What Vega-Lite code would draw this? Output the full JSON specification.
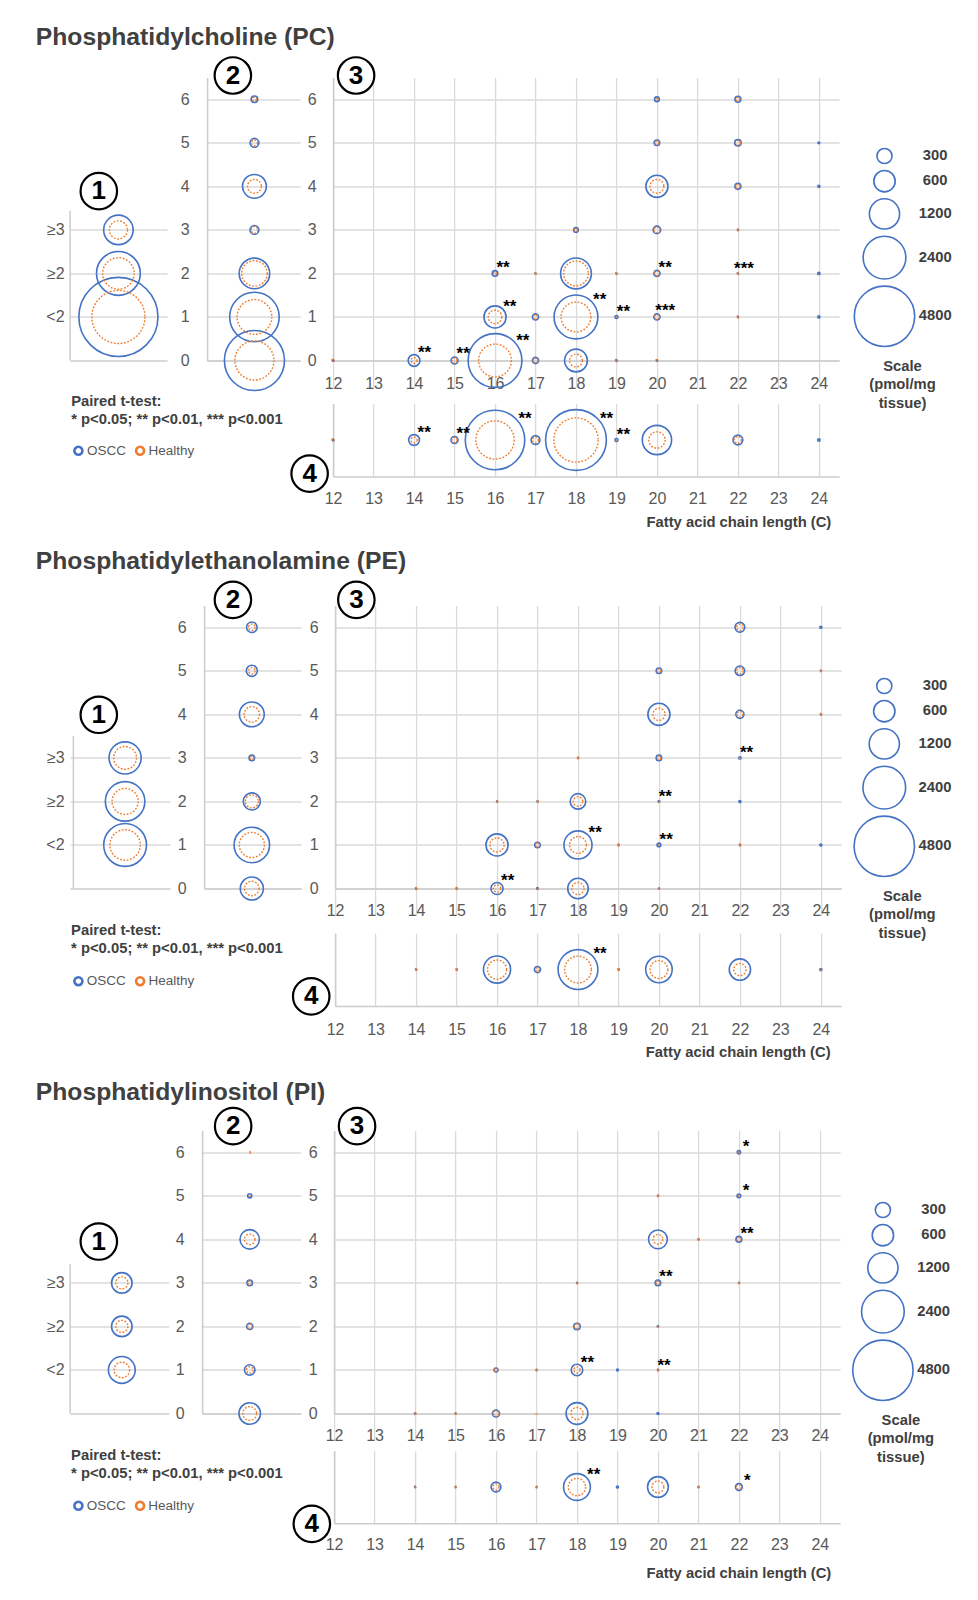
{
"$schema": "https://vega.github.io/schema/vega-lite/v6.json",
"background": "white",
"padding": {"left": 35.1, "top": 24.5, "right": 5, "bottom": 5},
"spacing": 19,
"resolve": {"scale": {"size": "independent"}, "legend": {"size": "independent"}},
"config": {
  "view": {"stroke": null},
  "axis": {"labelFont": "Liberation Sans", "labelFontSize": 16, "labelColor": "#595959", "gridColor": "#DADADA", "gridWidth": 1.3, "domainColor": "#CCCCCC", "domainWidth": 1.5, "tickColor": "#DADADA", "tickWidth": 1.3, "labelFlush": false, "labelOverlap": false, "titleFont": "Liberation Sans"},
  "text": {"font": "Liberation Sans"}
},
"vconcat": [
{
"title": {"text": "Phosphatidylcholine (PC)", "anchor": "start", "frame": "group", "dx": -34.3, "offset": 2.9, "fontSize": 24.7, "fontWeight": "bold", "font": "Liberation Sans", "color": "#404040"},
"columns": 3, "bounds": "flush", "spacing": {"row": 43, "column": 33},
"resolve": {"scale": {"size": "independent"}, "legend": {"size": "independent"}},
"concat": [
 {"width": 97, "height": 283,
  "layer": [
   {"data": {"values": [{"cat":3,"oscc":1145,"healthy":431},{"cat":2,"oscc":2524,"healthy":1306},{"cat":1,"oscc":8233,"healthy":3710}]},
    "encoding": {"x": {"datum":0.498,"type":"quantitative","scale":{"domain":[0,1],"nice":false,"zero":false},"axis":{"labels":false,"ticks":false,"grid":false,"domain":true,"title":null}},
     "y": {"field":"cat","type":"quantitative","scale":{"domain":[0,6.5],"nice":false,"zero":false},"axis":{"values":[1,2,3],"labelExpr":"datum.value == 1 ? '<2' : (datum.value == 2 ? '≥2' : '≥3')","domain":false,"ticks":false,"grid":true,"title":null,"labelPadding":6}}},
    "layer": [
     {"mark": {"type":"point","shape":"circle","filled":false,"stroke":"#4472C4","strokeWidth":1.6,"opacity":1},
      "encoding": {"size": {"field":"oscc","type":"quantitative","scale":{"type":"linear","domain":[0,4800],"range":[0,3648]},"legend":null}}},
     {"mark": {"type":"point","shape":"circle","filled":false,"stroke":"#ED7D31","strokeWidth":1.4,"strokeDash":[1.8,1.6],"opacity":1},
      "encoding": {"size": {"field":"healthy","type":"quantitative","scale":{"type":"linear","domain":[0,4800],"range":[0,3648]},"legend":null}}}
    ]},
   {"data":{"values":[{}]},"mark":{"type":"rule","color":"#CCCCCC","strokeWidth":1.5},
    "encoding":{"x":{"datum":0,"type":"quantitative","axis":{"title":null}},"y":{"datum":0,"type":"quantitative","axis":{"title":null}},"y2":{"datum":3.44}}},
   {"data":{"values":[{}]},"mark":{"type":"point","shape":"circle","filled":true,"fill":"#FFFFFF","stroke":"#000000","strokeWidth":2.2,"size":1330,"opacity":1},
    "encoding":{"x":{"datum":0.296,"type":"quantitative","axis":{"title":null}},"y":{"datum":3.89,"type":"quantitative","axis":{"title":null}}}},
   {"data":{"values":[{}]},"mark":{"type":"text","text":"1","font":"Liberation Sans","fontSize":26,"fontWeight":"bold","color":"#000000","align":"center","baseline":"middle"},
    "encoding":{"x":{"datum":0.296,"type":"quantitative","axis":{"title":null}},"y":{"datum":3.89,"type":"quantitative","axis":{"title":null}}}}
  ]},
 {"width": 93, "height": 283,
  "layer": [
   {"data": {"values": [{"db":0,"oscc":4753,"healthy":2012},{"db":1,"oscc":3224,"healthy":1593},{"db":2,"oscc":1224,"healthy":856},{"db":3,"oscc":102,"healthy":56},{"db":4,"oscc":745,"healthy":250},{"db":5,"oscc":102,"healthy":47},{"db":6,"oscc":56,"healthy":21}]},
    "encoding": {"x": {"datum":0.509,"type":"quantitative","scale":{"domain":[0,1],"nice":false,"zero":false},"axis":{"labels":false,"ticks":false,"grid":false,"domain":true,"title":null}},
     "y": {"field":"db","type":"quantitative","scale":{"domain":[0,6.5],"nice":false,"zero":false},"axis":{"values":[0,1,2,3,4,5,6],"domain":true,"ticks":false,"grid":true,"title":null,"labelPadding":18}}},
    "layer": [
     {"mark": {"type":"point","shape":"circle","filled":false,"stroke":"#4472C4","strokeWidth":1.6,"opacity":1},
      "encoding": {"size": {"field":"oscc","type":"quantitative","scale":{"type":"linear","domain":[0,4800],"range":[0,3648]},"legend":null}}},
     {"mark": {"type":"point","shape":"circle","filled":false,"stroke":"#ED7D31","strokeWidth":1.4,"strokeDash":[1.8,1.6],"opacity":1},
      "encoding": {"size": {"field":"healthy","type":"quantitative","scale":{"type":"linear","domain":[0,4800],"range":[0,3648]},"legend":null}}}
    ]},
   {"data":{"values":[{}]},"mark":{"type":"point","shape":"circle","filled":true,"fill":"#FFFFFF","stroke":"#000000","strokeWidth":2.2,"size":1330,"opacity":1},
    "encoding":{"x":{"datum":0.277,"type":"quantitative","axis":{"title":null}},"y":{"datum":6.546,"type":"quantitative","axis":{"title":null}}}},
   {"data":{"values":[{}]},"mark":{"type":"text","text":"2","font":"Liberation Sans","fontSize":26,"fontWeight":"bold","color":"#000000","align":"center","baseline":"middle"},
    "encoding":{"x":{"datum":0.277,"type":"quantitative","axis":{"title":null}},"y":{"datum":6.546,"type":"quantitative","axis":{"title":null}}}}
  ]},
 {"width": 506, "height": 283,
  "layer": [
   {"data": {"values": [
     {"c":12,"db":0,"oscc":3,"healthy":8,"sig":""},{"c":14,"db":0,"oscc":183,"healthy":47,"sig":"**"},{"c":15,"db":0,"oscc":66,"healthy":33,"sig":"**"},{"c":16,"db":0,"oscc":3808,"healthy":1416,"sig":"**"},{"c":17,"db":0,"oscc":50,"healthy":30,"sig":""},{"c":18,"db":0,"oscc":684,"healthy":216,"sig":""},{"c":19,"db":0,"oscc":2,"healthy":8,"sig":""},{"c":20,"db":0,"oscc":2,"healthy":6,"sig":""},
     {"c":16,"db":1,"oscc":643,"healthy":240,"sig":"**"},{"c":17,"db":1,"oscc":50,"healthy":27,"sig":""},{"c":18,"db":1,"oscc":2524,"healthy":1168,"sig":"**"},{"c":19,"db":1,"oscc":12,"healthy":1,"sig":"**"},{"c":20,"db":1,"oscc":50,"healthy":30,"sig":"***"},{"c":22,"db":1,"oscc":1,"healthy":6,"sig":""},{"c":24,"db":1,"oscc":6,"healthy":0,"sig":""},
     {"c":16,"db":2,"oscc":40,"healthy":10,"sig":"**"},{"c":17,"db":2,"oscc":1,"healthy":6,"sig":""},{"c":18,"db":2,"oscc":1248,"healthy":809,"sig":""},{"c":19,"db":2,"oscc":1,"healthy":6,"sig":""},{"c":20,"db":2,"oscc":50,"healthy":30,"sig":"**"},{"c":22,"db":2,"oscc":1,"healthy":6,"sig":"***"},{"c":24,"db":2,"oscc":6,"healthy":0,"sig":""},
     {"c":18,"db":3,"oscc":28,"healthy":12,"sig":""},{"c":20,"db":3,"oscc":74,"healthy":45,"sig":""},{"c":22,"db":3,"oscc":1,"healthy":5,"sig":""},
     {"c":20,"db":4,"oscc":643,"healthy":250,"sig":""},{"c":22,"db":4,"oscc":47,"healthy":25,"sig":""},{"c":24,"db":4,"oscc":5,"healthy":0,"sig":""},
     {"c":20,"db":5,"oscc":40,"healthy":20,"sig":""},{"c":22,"db":5,"oscc":55,"healthy":33,"sig":""},{"c":24,"db":5,"oscc":4,"healthy":0,"sig":""},
     {"c":20,"db":6,"oscc":30,"healthy":5,"sig":""},{"c":22,"db":6,"oscc":45,"healthy":20,"sig":""}]},
    "encoding": {"x": {"field":"c","type":"quantitative","scale":{"domain":[12,24.5],"nice":false,"zero":false},"axis":{"values":[12,13,14,15,16,17,18,19,20,21,22,23,24],"grid":true,"ticks":true,"tickSize":27,"labelPadding":-12.5,"domain":true,"title":null}},
     "y": {"field":"db","type":"quantitative","scale":{"domain":[0,6.5],"nice":false,"zero":false},"axis":{"values":[0,1,2,3,4,5,6],"domain":true,"ticks":false,"grid":true,"title":null,"labelPadding":17}}},
    "layer": [
     {"mark": {"type":"point","shape":"circle","filled":false,"stroke":"#4472C4","strokeWidth":1.6,"opacity":1},
      "encoding": {"size": {"field":"oscc","type":"quantitative","scale":{"type":"linear","domain":[0,4800],"range":[0,3648]},
        "legend":{"values":[300,600,1200,2400,4800],"format":"d","title":["Scale","(pmol/mg","tissue)"],"orient":"none","legendX":520.4,"legendY":70,"padding":0,"titleOrient":"bottom","titleAnchor":"middle","titleAlign":"center","titleFontSize":14.8,"titleFont":"Liberation Sans","titleFontWeight":"bold","titleColor":"#404040","titleLineHeight":18.3,"titlePadding":9.5,"titleLimit":300,"labelFontSize":14.8,"labelFont":"Liberation Sans","labelFontWeight":"bold","labelColor":"#404040","labelAlign":"center","labelOffset":19.7,"symbolType":"circle","symbolStrokeColor":"#4472C4","symbolFillColor":"transparent","symbolStrokeWidth":1.6,"symbolOpacity":1,"rowPadding":-0.8}}}},
     {"mark": {"type":"point","shape":"circle","filled":false,"stroke":"#ED7D31","strokeWidth":1.4,"strokeDash":[1.8,1.6],"opacity":1},
      "encoding": {"size": {"field":"healthy","type":"quantitative","scale":{"type":"linear","domain":[0,4800],"range":[0,3648]},"legend":null}}},
     {"mark": {"type":"text","font":"Liberation Sans","fontSize":17,"fontWeight":"bold","color":"#000000","align":"center","baseline":"middle","theta":0.96},
      "encoding": {"text":{"field":"sig"},"radius": {"field":"oscc","type":"quantitative","scale":{"type":"sqrt","domain":[0,4800],"range":[7,37.2],"zero":false}}}}
    ]},
   {"data":{"values":[{}]},"mark":{"type":"point","shape":"circle","filled":true,"fill":"#FFFFFF","stroke":"#000000","strokeWidth":2.2,"size":1330,"opacity":1},
    "encoding":{"x":{"datum":12.568,"type":"quantitative","axis":{"title":null}},"y":{"datum":6.546,"type":"quantitative","axis":{"title":null}}}},
   {"data":{"values":[{}]},"mark":{"type":"text","text":"3","font":"Liberation Sans","fontSize":26,"fontWeight":"bold","color":"#000000","align":"center","baseline":"middle"},
    "encoding":{"x":{"datum":12.568,"type":"quantitative","axis":{"title":null}},"y":{"datum":6.546,"type":"quantitative","axis":{"title":null}}}}
  ]},
 {"width": 104, "height": 73,
  "data": {"values": [{}]},
  "encoding": {"x":{"datum":0,"type":"quantitative","scale":{"domain":[0,1],"nice":false,"zero":false},"axis":null},"y":{"datum":0,"type":"quantitative","scale":{"domain":[0,1],"nice":false,"zero":false},"axis":null}},
  "layer": [
   {"mark":{"type":"text","text":"Paired t-test:","align":"left","baseline":"middle","font":"Liberation Sans","fontSize":14.8,"fontWeight":"bold","color":"#404040"},
    "encoding":{"x":{"datum":0.01,"type":"quantitative","axis":null},"y":{"datum":1.023,"type":"quantitative","axis":null}}},
   {"mark":{"type":"text","text":"* p<0.05; ** p<0.01, *** p<0.001","align":"left","baseline":"middle","font":"Liberation Sans","fontSize":14.8,"fontWeight":"bold","color":"#404040"},
    "encoding":{"x":{"datum":0.01,"type":"quantitative","axis":null},"y":{"datum":0.777,"type":"quantitative","axis":null}}},
   {"mark":{"type":"point","shape":"circle","filled":false,"stroke":"#4472C4","strokeWidth":2.6,"size":64,"opacity":1},
    "encoding":{"x":{"datum":0.08,"type":"quantitative","axis":null},"y":{"datum":0.352,"type":"quantitative","axis":null}}},
   {"mark":{"type":"text","text":"OSCC","align":"left","baseline":"middle","font":"Liberation Sans","fontSize":13.5,"color":"#595959"},
    "encoding":{"x":{"datum":0.163,"type":"quantitative","axis":null},"y":{"datum":0.352,"type":"quantitative","axis":null}}},
   {"mark":{"type":"point","shape":"circle","filled":false,"stroke":"#ED7D31","strokeWidth":2.6,"size":64,"opacity":1},
    "encoding":{"x":{"datum":0.673,"type":"quantitative","axis":null},"y":{"datum":0.352,"type":"quantitative","axis":null}}},
   {"mark":{"type":"text","text":"Healthy","align":"left","baseline":"middle","font":"Liberation Sans","fontSize":13.5,"color":"#595959"},
    "encoding":{"x":{"datum":0.753,"type":"quantitative","axis":null},"y":{"datum":0.352,"type":"quantitative","axis":null}}}
  ]},
 {"width": 10, "height": 10, "data": {"values": []}, "mark": "point"},
 {"width": 506, "height": 73,
  "layer": [
   {"data": {"values": [{"c":12,"oscc":3,"healthy":8,"sig":""},{"c":14,"oscc":153,"healthy":47,"sig":"**"},{"c":15,"oscc":66,"healthy":33,"sig":"**"},{"c":16,"oscc":4658,"healthy":1930,"sig":"**"},{"c":17,"oscc":102,"healthy":47,"sig":""},{"c":18,"oscc":4864,"healthy":2582,"sig":"**"},{"c":19,"oscc":12,"healthy":2,"sig":"**"},{"c":20,"oscc":1130,"healthy":350,"sig":""},{"c":22,"oscc":126,"healthy":64,"sig":""},{"c":24,"oscc":8,"healthy":0,"sig":""}]},
    "encoding": {"x": {"field":"c","type":"quantitative","scale":{"domain":[12,24.5],"nice":false,"zero":false},"axis":{"values":[12,13,14,15,16,17,18,19,20,21,22,23,24],"grid":true,"ticks":false,"labelPadding":13.5,"domain":true,"title":"Fatty acid chain length (C)","titleX":497.7,"titleAlign":"right","titleAnchor":"end","titleFontSize":14.8,"titleFontWeight":"bold","titleColor":"#404040","titlePadding":8}},
     "y": {"datum":0.5,"type":"quantitative","scale":{"domain":[0,1],"nice":false,"zero":false},"axis":{"labels":false,"ticks":false,"grid":false,"domain":true,"title":null}}},
    "layer": [
     {"mark": {"type":"point","shape":"circle","filled":false,"stroke":"#4472C4","strokeWidth":1.6,"opacity":1},
      "encoding": {"size": {"field":"oscc","type":"quantitative","scale":{"type":"linear","domain":[0,4800],"range":[0,3648]},"legend":null}}},
     {"mark": {"type":"point","shape":"circle","filled":false,"stroke":"#ED7D31","strokeWidth":1.4,"strokeDash":[1.8,1.6],"opacity":1},
      "encoding": {"size": {"field":"healthy","type":"quantitative","scale":{"type":"linear","domain":[0,4800],"range":[0,3648]},"legend":null}}},
     {"mark": {"type":"text","font":"Liberation Sans","fontSize":17,"fontWeight":"bold","color":"#000000","align":"center","baseline":"middle","theta":0.96},
      "encoding": {"text":{"field":"sig"},"radius": {"field":"oscc","type":"quantitative","scale":{"type":"sqrt","domain":[0,4800],"range":[7,37.2],"zero":false}}}}
    ]},
   {"data":{"values":[{}]},"mark":{"type":"point","shape":"circle","filled":true,"fill":"#FFFFFF","stroke":"#000000","strokeWidth":2.2,"size":1330,"opacity":1},
    "encoding":{"x":{"datum":11.42,"type":"quantitative","axis":{"title":"Fatty acid chain length (C)"}},"y":{"datum":0.04,"type":"quantitative","axis":{"title":null}}}},
   {"data":{"values":[{}]},"mark":{"type":"text","text":"4","font":"Liberation Sans","fontSize":26,"fontWeight":"bold","color":"#000000","align":"center","baseline":"middle"},
    "encoding":{"x":{"datum":11.42,"type":"quantitative","axis":{"title":"Fatty acid chain length (C)"}},"y":{"datum":0.04,"type":"quantitative","axis":{"title":null}}}}
  ]}
]
},
{
"title": {"text": "Phosphatidylethanolamine (PE)", "anchor": "start", "frame": "group", "dx": -34.3, "offset": 4, "fontSize": 24.7, "fontWeight": "bold", "font": "Liberation Sans", "color": "#404040"},
"columns": 3, "bounds": "flush", "spacing": {"row": 44.7, "column": 34},
"resolve": {"scale": {"size": "independent"}, "legend": {"size": "independent"}},
"concat": [
 {"width": 100, "height": 283,
  "layer": [
   {"data": {"values": [{"cat":3,"oscc":1356,"healthy":684},{"cat":2,"oscc":2053,"healthy":896},{"cat":1,"oscc":2410,"healthy":1224}]},
    "encoding": {"x": {"datum":0.55,"type":"quantitative","scale":{"domain":[0,1],"nice":false,"zero":false},"axis":{"labels":false,"ticks":false,"grid":false,"domain":true,"title":null}},
     "y": {"field":"cat","type":"quantitative","scale":{"domain":[0,6.5],"nice":false,"zero":false},"axis":{"values":[1,2,3],"labelExpr":"datum.value == 1 ? '<2' : (datum.value == 2 ? '≥2' : '≥3')","domain":false,"ticks":false,"grid":true,"title":null,"labelPadding":6}}},
    "layer": [
     {"mark": {"type":"point","shape":"circle","filled":false,"stroke":"#4472C4","strokeWidth":1.6,"opacity":1},
      "encoding": {"size": {"field":"oscc","type":"quantitative","scale":{"type":"linear","domain":[0,4800],"range":[0,3648]},"legend":null}}},
     {"mark": {"type":"point","shape":"circle","filled":false,"stroke":"#ED7D31","strokeWidth":1.4,"strokeDash":[1.8,1.6],"opacity":1},
      "encoding": {"size": {"field":"healthy","type":"quantitative","scale":{"type":"linear","domain":[0,4800],"range":[0,3648]},"legend":null}}}
    ]},
   {"data":{"values":[{}]},"mark":{"type":"rule","color":"#CCCCCC","strokeWidth":1.5},
    "encoding":{"x":{"datum":0.033,"type":"quantitative","axis":{"title":null}},"y":{"datum":0,"type":"quantitative","axis":{"title":null}},"y2":{"datum":3.5}}},
   {"data":{"values":[{}]},"mark":{"type":"point","shape":"circle","filled":true,"fill":"#FFFFFF","stroke":"#000000","strokeWidth":2.2,"size":1330,"opacity":1},
    "encoding":{"x":{"datum":0.287,"type":"quantitative","axis":{"title":null}},"y":{"datum":3.99,"type":"quantitative","axis":{"title":null}}}},
   {"data":{"values":[{}]},"mark":{"type":"text","text":"1","font":"Liberation Sans","fontSize":26,"fontWeight":"bold","color":"#000000","align":"center","baseline":"middle"},
    "encoding":{"x":{"datum":0.287,"type":"quantitative","axis":{"title":null}},"y":{"datum":3.99,"type":"quantitative","axis":{"title":null}}}}
  ]},
 {"width": 97, "height": 283,
  "layer": [
   {"data": {"values": [{"db":0,"oscc":702,"healthy":277},{"db":1,"oscc":1658,"healthy":829},{"db":2,"oscc":385,"healthy":226},{"db":3,"oscc":40,"healthy":20},{"db":4,"oscc":809,"healthy":316},{"db":5,"oscc":162,"healthy":55},{"db":6,"oscc":145,"healthy":55}]},
    "encoding": {"x": {"datum":0.492,"type":"quantitative","scale":{"domain":[0,1],"nice":false,"zero":false},"axis":{"labels":false,"ticks":false,"grid":false,"domain":true,"title":null}},
     "y": {"field":"db","type":"quantitative","scale":{"domain":[0,6.5],"nice":false,"zero":false},"axis":{"values":[0,1,2,3,4,5,6],"domain":true,"ticks":false,"grid":true,"title":null,"labelPadding":18}}},
    "layer": [
     {"mark": {"type":"point","shape":"circle","filled":false,"stroke":"#4472C4","strokeWidth":1.6,"opacity":1},
      "encoding": {"size": {"field":"oscc","type":"quantitative","scale":{"type":"linear","domain":[0,4800],"range":[0,3648]},"legend":null}}},
     {"mark": {"type":"point","shape":"circle","filled":false,"stroke":"#ED7D31","strokeWidth":1.4,"strokeDash":[1.8,1.6],"opacity":1},
      "encoding": {"size": {"field":"healthy","type":"quantitative","scale":{"type":"linear","domain":[0,4800],"range":[0,3648]},"legend":null}}}
    ]},
   {"data":{"values":[{}]},"mark":{"type":"point","shape":"circle","filled":true,"fill":"#FFFFFF","stroke":"#000000","strokeWidth":2.2,"size":1330,"opacity":1},
    "encoding":{"x":{"datum":0.297,"type":"quantitative","axis":{"title":null}},"y":{"datum":6.63,"type":"quantitative","axis":{"title":null}}}},
   {"data":{"values":[{}]},"mark":{"type":"text","text":"2","font":"Liberation Sans","fontSize":26,"fontWeight":"bold","color":"#000000","align":"center","baseline":"middle"},
    "encoding":{"x":{"datum":0.297,"type":"quantitative","axis":{"title":null}},"y":{"datum":6.63,"type":"quantitative","axis":{"title":null}}}}
  ]},
 {"width": 506, "height": 283,
  "layer": [
   {"data": {"values": [
     {"c":14,"db":0,"oscc":1,"healthy":6,"sig":""},{"c":15,"db":0,"oscc":1,"healthy":5,"sig":""},{"c":16,"db":0,"oscc":193,"healthy":70,"sig":"**"},{"c":17,"db":0,"oscc":4,"healthy":3,"sig":""},{"c":18,"db":0,"oscc":553,"healthy":193,"sig":""},{"c":20,"db":0,"oscc":1,"healthy":4,"sig":""},
     {"c":16,"db":1,"oscc":643,"healthy":262,"sig":""},{"c":17,"db":1,"oscc":40,"healthy":25,"sig":""},{"c":18,"db":1,"oscc":1039,"healthy":371,"sig":"**"},{"c":19,"db":1,"oscc":1,"healthy":5,"sig":""},{"c":20,"db":1,"oscc":18,"healthy":1,"sig":"**"},{"c":22,"db":1,"oscc":1,"healthy":5,"sig":""},{"c":24,"db":1,"oscc":5,"healthy":0,"sig":""},
     {"c":16,"db":2,"oscc":1,"healthy":5,"sig":""},{"c":17,"db":2,"oscc":1,"healthy":5,"sig":""},{"c":18,"db":2,"oscc":316,"healthy":119,"sig":""},{"c":20,"db":2,"oscc":3,"healthy":3,"sig":"**"},{"c":22,"db":2,"oscc":5,"healthy":0,"sig":""},
     {"c":18,"db":3,"oscc":1,"healthy":4,"sig":""},{"c":20,"db":3,"oscc":40,"healthy":20,"sig":""},{"c":22,"db":3,"oscc":6,"healthy":1,"sig":"**"},
     {"c":20,"db":4,"oscc":643,"healthy":193,"sig":""},{"c":22,"db":4,"oscc":86,"healthy":45,"sig":""},{"c":24,"db":4,"oscc":1,"healthy":5,"sig":""},
     {"c":20,"db":5,"oscc":40,"healthy":20,"sig":""},{"c":22,"db":5,"oscc":119,"healthy":55,"sig":""},{"c":24,"db":5,"oscc":1,"healthy":4,"sig":""},
     {"c":22,"db":6,"oscc":126,"healthy":55,"sig":""},{"c":24,"db":6,"oscc":5,"healthy":0,"sig":""}]},
    "encoding": {"x": {"field":"c","type":"quantitative","scale":{"domain":[12,24.5],"nice":false,"zero":false},"axis":{"values":[12,13,14,15,16,17,18,19,20,21,22,23,24],"grid":true,"ticks":true,"tickSize":27,"labelPadding":-12.5,"domain":true,"title":null}},
     "y": {"field":"db","type":"quantitative","scale":{"domain":[0,6.5],"nice":false,"zero":false},"axis":{"values":[0,1,2,3,4,5,6],"domain":true,"ticks":false,"grid":true,"title":null,"labelPadding":17}}},
    "layer": [
     {"mark": {"type":"point","shape":"circle","filled":false,"stroke":"#4472C4","strokeWidth":1.6,"opacity":1},
      "encoding": {"size": {"field":"oscc","type":"quantitative","scale":{"type":"linear","domain":[0,4800],"range":[0,3648]},
        "legend":{"values":[300,600,1200,2400,4800],"format":"d","title":["Scale","(pmol/mg","tissue)"],"orient":"none","legendX":518.2,"legendY":72,"padding":0,"titleOrient":"bottom","titleAnchor":"middle","titleAlign":"center","titleFontSize":14.8,"titleFont":"Liberation Sans","titleFontWeight":"bold","titleColor":"#404040","titleLineHeight":18.3,"titlePadding":9.5,"titleLimit":300,"labelFontSize":14.8,"labelFont":"Liberation Sans","labelFontWeight":"bold","labelColor":"#404040","labelAlign":"center","labelOffset":19.7,"symbolType":"circle","symbolStrokeColor":"#4472C4","symbolFillColor":"transparent","symbolStrokeWidth":1.6,"symbolOpacity":1,"rowPadding":-0.8}}}},
     {"mark": {"type":"point","shape":"circle","filled":false,"stroke":"#ED7D31","strokeWidth":1.4,"strokeDash":[1.8,1.6],"opacity":1},
      "encoding": {"size": {"field":"healthy","type":"quantitative","scale":{"type":"linear","domain":[0,4800],"range":[0,3648]},"legend":null}}},
     {"mark": {"type":"text","font":"Liberation Sans","fontSize":17,"fontWeight":"bold","color":"#000000","align":"center","baseline":"middle","theta":0.96},
      "encoding": {"text":{"field":"sig"},"radius": {"field":"oscc","type":"quantitative","scale":{"type":"sqrt","domain":[0,4800],"range":[7,37.2],"zero":false}}}}
    ]},
   {"data":{"values":[{}]},"mark":{"type":"point","shape":"circle","filled":true,"fill":"#FFFFFF","stroke":"#000000","strokeWidth":2.2,"size":1330,"opacity":1},
    "encoding":{"x":{"datum":12.525,"type":"quantitative","axis":{"title":null}},"y":{"datum":6.63,"type":"quantitative","axis":{"title":null}}}},
   {"data":{"values":[{}]},"mark":{"type":"text","text":"3","font":"Liberation Sans","fontSize":26,"fontWeight":"bold","color":"#000000","align":"center","baseline":"middle"},
    "encoding":{"x":{"datum":12.525,"type":"quantitative","axis":{"title":null}},"y":{"datum":6.63,"type":"quantitative","axis":{"title":null}}}}
  ]},
 {"width": 100, "height": 72.7,
  "data": {"values": [{}]},
  "encoding": {"x":{"datum":0,"type":"quantitative","scale":{"domain":[0,1],"nice":false,"zero":false},"axis":null},"y":{"datum":0,"type":"quantitative","scale":{"domain":[0,1],"nice":false,"zero":false},"axis":null}},
  "layer": [
   {"mark":{"type":"text","text":"Paired t-test:","align":"left","baseline":"middle","font":"Liberation Sans","fontSize":14.8,"fontWeight":"bold","color":"#404040"},
    "encoding":{"x":{"datum":0.01,"type":"quantitative","axis":null},"y":{"datum":1.032,"type":"quantitative","axis":null}}},
   {"mark":{"type":"text","text":"* p<0.05; ** p<0.01, *** p<0.001","align":"left","baseline":"middle","font":"Liberation Sans","fontSize":14.8,"fontWeight":"bold","color":"#404040"},
    "encoding":{"x":{"datum":0.01,"type":"quantitative","axis":null},"y":{"datum":0.78,"type":"quantitative","axis":null}}},
   {"mark":{"type":"point","shape":"circle","filled":false,"stroke":"#4472C4","strokeWidth":2.6,"size":64,"opacity":1},
    "encoding":{"x":{"datum":0.083,"type":"quantitative","axis":null},"y":{"datum":0.34,"type":"quantitative","axis":null}}},
   {"mark":{"type":"text","text":"OSCC","align":"left","baseline":"middle","font":"Liberation Sans","fontSize":13.5,"color":"#595959"},
    "encoding":{"x":{"datum":0.167,"type":"quantitative","axis":null},"y":{"datum":0.34,"type":"quantitative","axis":null}}},
   {"mark":{"type":"point","shape":"circle","filled":false,"stroke":"#ED7D31","strokeWidth":2.6,"size":64,"opacity":1},
    "encoding":{"x":{"datum":0.70,"type":"quantitative","axis":null},"y":{"datum":0.34,"type":"quantitative","axis":null}}},
   {"mark":{"type":"text","text":"Healthy","align":"left","baseline":"middle","font":"Liberation Sans","fontSize":13.5,"color":"#595959"},
    "encoding":{"x":{"datum":0.783,"type":"quantitative","axis":null},"y":{"datum":0.34,"type":"quantitative","axis":null}}}
  ]},
 {"width": 10, "height": 10, "data": {"values": []}, "mark": "point"},
 {"width": 506, "height": 72.7,
  "layer": [
   {"data": {"values": [{"c":14,"oscc":1,"healthy":6,"sig":""},{"c":15,"oscc":1,"healthy":5,"sig":""},{"c":16,"oscc":966,"healthy":480,"sig":""},{"c":17,"oscc":50,"healthy":20,"sig":""},{"c":18,"oscc":2084,"healthy":945,"sig":"**"},{"c":19,"oscc":1,"healthy":5,"sig":""},{"c":20,"oscc":924,"healthy":417,"sig":""},{"c":22,"oscc":597,"healthy":199,"sig":""},{"c":24,"oscc":6,"healthy":2,"sig":""}]},
    "encoding": {"x": {"field":"c","type":"quantitative","scale":{"domain":[12,24.5],"nice":false,"zero":false},"axis":{"values":[12,13,14,15,16,17,18,19,20,21,22,23,24],"grid":true,"ticks":false,"labelPadding":16,"domain":true,"title":"Fatty acid chain length (C)","titleX":495,"titleAlign":"right","titleAnchor":"end","titleFontSize":14.8,"titleFontWeight":"bold","titleColor":"#404040","titlePadding":7}},
     "y": {"datum":0.5,"type":"quantitative","scale":{"domain":[0,1],"nice":false,"zero":false},"axis":{"labels":false,"ticks":false,"grid":false,"domain":true,"title":null}}},
    "layer": [
     {"mark": {"type":"point","shape":"circle","filled":false,"stroke":"#4472C4","strokeWidth":1.6,"opacity":1},
      "encoding": {"size": {"field":"oscc","type":"quantitative","scale":{"type":"linear","domain":[0,4800],"range":[0,3648]},"legend":null}}},
     {"mark": {"type":"point","shape":"circle","filled":false,"stroke":"#ED7D31","strokeWidth":1.4,"strokeDash":[1.8,1.6],"opacity":1},
      "encoding": {"size": {"field":"healthy","type":"quantitative","scale":{"type":"linear","domain":[0,4800],"range":[0,3648]},"legend":null}}},
     {"mark": {"type":"text","font":"Liberation Sans","fontSize":17,"fontWeight":"bold","color":"#000000","align":"center","baseline":"middle","theta":0.96},
      "encoding": {"text":{"field":"sig"},"radius": {"field":"oscc","type":"quantitative","scale":{"type":"sqrt","domain":[0,4800],"range":[7,37.2],"zero":false}}}}
    ]},
   {"data":{"values":[{}]},"mark":{"type":"point","shape":"circle","filled":true,"fill":"#FFFFFF","stroke":"#000000","strokeWidth":2.2,"size":1330,"opacity":1},
    "encoding":{"x":{"datum":11.41,"type":"quantitative","axis":{"title":"Fatty acid chain length (C)"}},"y":{"datum":0.13,"type":"quantitative","axis":{"title":null}}}},
   {"data":{"values":[{}]},"mark":{"type":"text","text":"4","font":"Liberation Sans","fontSize":26,"fontWeight":"bold","color":"#000000","align":"center","baseline":"middle"},
    "encoding":{"x":{"datum":11.41,"type":"quantitative","axis":{"title":"Fatty acid chain length (C)"}},"y":{"datum":0.13,"type":"quantitative","axis":{"title":null}}}}
  ]}
]
},
{
"title": {"text": "Phosphatidylinositol (PI)", "anchor": "start", "frame": "group", "dx": -34.3, "offset": -1, "fontSize": 24.7, "fontWeight": "bold", "font": "Liberation Sans", "color": "#404040"},
"columns": 3, "bounds": "flush", "spacing": {"row": 37.3, "column": 33},
"resolve": {"scale": {"size": "independent"}, "legend": {"size": "independent"}},
"concat": [
 {"width": 98.7, "height": 283,
  "layer": [
   {"data": {"values": [{"cat":3,"oscc":553,"healthy":193},{"cat":2,"oscc":553,"healthy":193},{"cat":1,"oscc":945,"healthy":316}]},
    "encoding": {"x": {"datum":0.524,"type":"quantitative","scale":{"domain":[0,1],"nice":false,"zero":false},"axis":{"labels":false,"ticks":false,"grid":false,"domain":true,"title":null}},
     "y": {"field":"cat","type":"quantitative","scale":{"domain":[0,6.5],"nice":false,"zero":false},"axis":{"values":[1,2,3],"labelExpr":"datum.value == 1 ? '<2' : (datum.value == 2 ? '≥2' : '≥3')","domain":false,"ticks":false,"grid":true,"title":null,"labelPadding":6}}},
    "layer": [
     {"mark": {"type":"point","shape":"circle","filled":false,"stroke":"#4472C4","strokeWidth":1.6,"opacity":1},
      "encoding": {"size": {"field":"oscc","type":"quantitative","scale":{"type":"linear","domain":[0,4800],"range":[0,3648]},"legend":null}}},
     {"mark": {"type":"point","shape":"circle","filled":false,"stroke":"#ED7D31","strokeWidth":1.4,"strokeDash":[1.8,1.6],"opacity":1},
      "encoding": {"size": {"field":"healthy","type":"quantitative","scale":{"type":"linear","domain":[0,4800],"range":[0,3648]},"legend":null}}}
    ]},
   {"data":{"values":[{}]},"mark":{"type":"rule","color":"#CCCCCC","strokeWidth":1.5},
    "encoding":{"x":{"datum":0,"type":"quantitative","axis":{"title":null}},"y":{"datum":0,"type":"quantitative","axis":{"title":null}},"y2":{"datum":3.43}}},
   {"data":{"values":[{}]},"mark":{"type":"point","shape":"circle","filled":true,"fill":"#FFFFFF","stroke":"#000000","strokeWidth":2.2,"size":1330,"opacity":1},
    "encoding":{"x":{"datum":0.291,"type":"quantitative","axis":{"title":null}},"y":{"datum":3.95,"type":"quantitative","axis":{"title":null}}}},
   {"data":{"values":[{}]},"mark":{"type":"text","text":"1","font":"Liberation Sans","fontSize":26,"fontWeight":"bold","color":"#000000","align":"center","baseline":"middle"},
    "encoding":{"x":{"datum":0.291,"type":"quantitative","axis":{"title":null}},"y":{"datum":3.95,"type":"quantitative","axis":{"title":null}}}}
  ]},
 {"width": 98.6, "height": 283,
  "layer": [
   {"data": {"values": [{"db":0,"oscc":608,"healthy":250},{"db":1,"oscc":145,"healthy":56},{"db":2,"oscc":50,"healthy":30},{"db":3,"oscc":40,"healthy":20},{"db":4,"oscc":500,"healthy":145},{"db":5,"oscc":22,"healthy":2},{"db":6,"oscc":0,"healthy":4}]},
    "encoding": {"x": {"datum":0.483,"type":"quantitative","scale":{"domain":[0,1],"nice":false,"zero":false},"axis":{"labels":false,"ticks":false,"grid":false,"domain":true,"title":null}},
     "y": {"field":"db","type":"quantitative","scale":{"domain":[0,6.5],"nice":false,"zero":false},"axis":{"values":[0,1,2,3,4,5,6],"domain":true,"ticks":false,"grid":true,"title":null,"labelPadding":18}}},
    "layer": [
     {"mark": {"type":"point","shape":"circle","filled":false,"stroke":"#4472C4","strokeWidth":1.6,"opacity":1},
      "encoding": {"size": {"field":"oscc","type":"quantitative","scale":{"type":"linear","domain":[0,4800],"range":[0,3648]},"legend":null}}},
     {"mark": {"type":"point","shape":"circle","filled":false,"stroke":"#ED7D31","strokeWidth":1.4,"strokeDash":[1.8,1.6],"opacity":1},
      "encoding": {"size": {"field":"healthy","type":"quantitative","scale":{"type":"linear","domain":[0,4800],"range":[0,3648]},"legend":null}}}
    ]},
   {"data":{"values":[{}]},"mark":{"type":"point","shape":"circle","filled":true,"fill":"#FFFFFF","stroke":"#000000","strokeWidth":2.2,"size":1330,"opacity":1},
    "encoding":{"x":{"datum":0.315,"type":"quantitative","axis":{"title":null}},"y":{"datum":6.6,"type":"quantitative","axis":{"title":null}}}},
   {"data":{"values":[{}]},"mark":{"type":"text","text":"2","font":"Liberation Sans","fontSize":26,"fontWeight":"bold","color":"#000000","align":"center","baseline":"middle"},
    "encoding":{"x":{"datum":0.315,"type":"quantitative","axis":{"title":null}},"y":{"datum":6.6,"type":"quantitative","axis":{"title":null}}}}
  ]},
 {"width": 506, "height": 283,
  "layer": [
   {"data": {"values": [
     {"c":14,"db":0,"oscc":1,"healthy":5,"sig":""},{"c":15,"db":0,"oscc":1,"healthy":4,"sig":""},{"c":16,"db":0,"oscc":66,"healthy":40,"sig":""},{"c":17,"db":0,"oscc":0,"healthy":2,"sig":""},{"c":18,"db":0,"oscc":625,"healthy":193,"sig":""},{"c":20,"db":0,"oscc":4,"healthy":0,"sig":""},
     {"c":16,"db":1,"oscc":20,"healthy":25,"sig":""},{"c":17,"db":1,"oscc":1,"healthy":4,"sig":""},{"c":18,"db":1,"oscc":174,"healthy":49,"sig":"**"},{"c":19,"db":1,"oscc":4,"healthy":0,"sig":""},{"c":20,"db":1,"oscc":1,"healthy":5,"sig":"**"},
     {"c":18,"db":2,"oscc":55,"healthy":36,"sig":""},{"c":20,"db":2,"oscc":2,"healthy":2,"sig":""},
     {"c":18,"db":3,"oscc":1,"healthy":4,"sig":""},{"c":20,"db":3,"oscc":40,"healthy":20,"sig":"**"},{"c":22,"db":3,"oscc":1,"healthy":4,"sig":""},
     {"c":20,"db":4,"oscc":465,"healthy":126,"sig":""},{"c":21,"db":4,"oscc":1,"healthy":4,"sig":""},{"c":22,"db":4,"oscc":45,"healthy":20,"sig":"**"},
     {"c":20,"db":5,"oscc":1,"healthy":4,"sig":""},{"c":22,"db":5,"oscc":18,"healthy":1,"sig":"*"},{"c":22,"db":6,"oscc":15,"healthy":1,"sig":"*"}]},
    "encoding": {"x": {"field":"c","type":"quantitative","scale":{"domain":[12,24.5],"nice":false,"zero":false},"axis":{"values":[12,13,14,15,16,17,18,19,20,21,22,23,24],"grid":true,"ticks":true,"tickSize":27,"labelPadding":-12.5,"domain":true,"title":null}},
     "y": {"field":"db","type":"quantitative","scale":{"domain":[0,6.5],"nice":false,"zero":false},"axis":{"values":[0,1,2,3,4,5,6],"domain":true,"ticks":false,"grid":true,"title":null,"labelPadding":17}}},
    "layer": [
     {"mark": {"type":"point","shape":"circle","filled":false,"stroke":"#4472C4","strokeWidth":1.6,"opacity":1},
      "encoding": {"size": {"field":"oscc","type":"quantitative","scale":{"type":"linear","domain":[0,4800],"range":[0,3648]},
        "legend":{"values":[300,600,1200,2400,4800],"format":"d","title":["Scale","(pmol/mg","tissue)"],"orient":"none","legendX":517.8,"legendY":71,"padding":0,"titleOrient":"bottom","titleAnchor":"middle","titleAlign":"center","titleFontSize":14.8,"titleFont":"Liberation Sans","titleFontWeight":"bold","titleColor":"#404040","titleLineHeight":18.3,"titlePadding":9.5,"titleLimit":300,"labelFontSize":14.8,"labelFont":"Liberation Sans","labelFontWeight":"bold","labelColor":"#404040","labelAlign":"center","labelOffset":19.7,"symbolType":"circle","symbolStrokeColor":"#4472C4","symbolFillColor":"transparent","symbolStrokeWidth":1.6,"symbolOpacity":1,"rowPadding":-0.8}}}},
     {"mark": {"type":"point","shape":"circle","filled":false,"stroke":"#ED7D31","strokeWidth":1.4,"strokeDash":[1.8,1.6],"opacity":1},
      "encoding": {"size": {"field":"healthy","type":"quantitative","scale":{"type":"linear","domain":[0,4800],"range":[0,3648]},"legend":null}}},
     {"mark": {"type":"text","font":"Liberation Sans","fontSize":17,"fontWeight":"bold","color":"#000000","align":"center","baseline":"middle","theta":0.96},
      "encoding": {"text":{"field":"sig"},"radius": {"field":"oscc","type":"quantitative","scale":{"type":"sqrt","domain":[0,4800],"range":[7,37.2],"zero":false}}}}
    ]},
   {"data":{"values":[{}]},"mark":{"type":"point","shape":"circle","filled":true,"fill":"#FFFFFF","stroke":"#000000","strokeWidth":2.2,"size":1330,"opacity":1},
    "encoding":{"x":{"datum":12.567,"type":"quantitative","axis":{"title":null}},"y":{"datum":6.6,"type":"quantitative","axis":{"title":null}}}},
   {"data":{"values":[{}]},"mark":{"type":"text","text":"3","font":"Liberation Sans","fontSize":26,"fontWeight":"bold","color":"#000000","align":"center","baseline":"middle"},
    "encoding":{"x":{"datum":12.567,"type":"quantitative","axis":{"title":null}},"y":{"datum":6.6,"type":"quantitative","axis":{"title":null}}}}
  ]},
 {"width": 98.7, "height": 72.4,
  "data": {"values": [{}]},
  "encoding": {"x":{"datum":0,"type":"quantitative","scale":{"domain":[0,1],"nice":false,"zero":false},"axis":null},"y":{"datum":0,"type":"quantitative","scale":{"domain":[0,1],"nice":false,"zero":false},"axis":null}},
  "layer": [
   {"mark":{"type":"text","text":"Paired t-test:","align":"left","baseline":"middle","font":"Liberation Sans","fontSize":14.8,"fontWeight":"bold","color":"#404040"},
    "encoding":{"x":{"datum":0.01,"type":"quantitative","axis":null},"y":{"datum":0.931,"type":"quantitative","axis":null}}},
   {"mark":{"type":"text","text":"* p<0.05; ** p<0.01, *** p<0.001","align":"left","baseline":"middle","font":"Liberation Sans","fontSize":14.8,"fontWeight":"bold","color":"#404040"},
    "encoding":{"x":{"datum":0.01,"type":"quantitative","axis":null},"y":{"datum":0.677,"type":"quantitative","axis":null}}},
   {"mark":{"type":"point","shape":"circle","filled":false,"stroke":"#4472C4","strokeWidth":2.6,"size":64,"opacity":1},
    "encoding":{"x":{"datum":0.084,"type":"quantitative","axis":null},"y":{"datum":0.24,"type":"quantitative","axis":null}}},
   {"mark":{"type":"text","text":"OSCC","align":"left","baseline":"middle","font":"Liberation Sans","fontSize":13.5,"color":"#595959"},
    "encoding":{"x":{"datum":0.169,"type":"quantitative","axis":null},"y":{"datum":0.24,"type":"quantitative","axis":null}}},
   {"mark":{"type":"point","shape":"circle","filled":false,"stroke":"#ED7D31","strokeWidth":2.6,"size":64,"opacity":1},
    "encoding":{"x":{"datum":0.709,"type":"quantitative","axis":null},"y":{"datum":0.24,"type":"quantitative","axis":null}}},
   {"mark":{"type":"text","text":"Healthy","align":"left","baseline":"middle","font":"Liberation Sans","fontSize":13.5,"color":"#595959"},
    "encoding":{"x":{"datum":0.793,"type":"quantitative","axis":null},"y":{"datum":0.24,"type":"quantitative","axis":null}}}
  ]},
 {"width": 10, "height": 10, "data": {"values": []}, "mark": "point"},
 {"width": 506, "height": 72.4,
  "layer": [
   {"data": {"values": [{"c":14,"oscc":1,"healthy":6,"sig":""},{"c":15,"oscc":1,"healthy":4,"sig":""},{"c":16,"oscc":126,"healthy":50,"sig":""},{"c":17,"oscc":1,"healthy":4,"sig":""},{"c":18,"oscc":945,"healthy":394,"sig":"**"},{"c":19,"oscc":5,"healthy":0,"sig":""},{"c":20,"oscc":569,"healthy":183,"sig":""},{"c":21,"oscc":1,"healthy":4,"sig":""},{"c":22,"oscc":61,"healthy":30,"sig":"*"}]},
    "encoding": {"x": {"field":"c","type":"quantitative","scale":{"domain":[12,24.5],"nice":false,"zero":false},"axis":{"values":[12,13,14,15,16,17,18,19,20,21,22,23,24],"grid":true,"ticks":false,"labelPadding":13,"domain":true,"title":"Fatty acid chain length (C)","titleX":496.7,"titleAlign":"right","titleAnchor":"end","titleFontSize":14.8,"titleFontWeight":"bold","titleColor":"#404040","titlePadding":13}},
     "y": {"datum":0.5,"type":"quantitative","scale":{"domain":[0,1],"nice":false,"zero":false},"axis":{"labels":false,"ticks":false,"grid":false,"domain":true,"title":null}}},
    "layer": [
     {"mark": {"type":"point","shape":"circle","filled":false,"stroke":"#4472C4","strokeWidth":1.6,"opacity":1},
      "encoding": {"size": {"field":"oscc","type":"quantitative","scale":{"type":"linear","domain":[0,4800],"range":[0,3648]},"legend":null}}},
     {"mark": {"type":"point","shape":"circle","filled":false,"stroke":"#ED7D31","strokeWidth":1.4,"strokeDash":[1.8,1.6],"opacity":1},
      "encoding": {"size": {"field":"healthy","type":"quantitative","scale":{"type":"linear","domain":[0,4800],"range":[0,3648]},"legend":null}}},
     {"mark": {"type":"text","font":"Liberation Sans","fontSize":17,"fontWeight":"bold","color":"#000000","align":"center","baseline":"middle","theta":0.96},
      "encoding": {"text":{"field":"sig"},"radius": {"field":"oscc","type":"quantitative","scale":{"type":"sqrt","domain":[0,4800],"range":[7,37.2],"zero":false}}}}
    ]},
   {"data":{"values":[{}]},"mark":{"type":"point","shape":"circle","filled":true,"fill":"#FFFFFF","stroke":"#000000","strokeWidth":2.2,"size":1330,"opacity":1},
    "encoding":{"x":{"datum":11.45,"type":"quantitative","axis":{"title":"Fatty acid chain length (C)"}},"y":{"datum":-0.01,"type":"quantitative","axis":{"title":null}}}},
   {"data":{"values":[{}]},"mark":{"type":"text","text":"4","font":"Liberation Sans","fontSize":26,"fontWeight":"bold","color":"#000000","align":"center","baseline":"middle"},
    "encoding":{"x":{"datum":11.45,"type":"quantitative","axis":{"title":"Fatty acid chain length (C)"}},"y":{"datum":-0.01,"type":"quantitative","axis":{"title":null}}}}
  ]}
]
}
]
}
